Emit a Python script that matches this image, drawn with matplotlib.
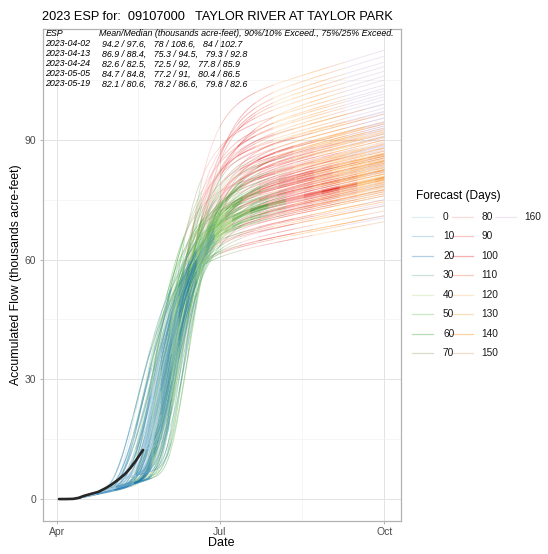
import math
import numpy as np
import matplotlib
matplotlib.use("Agg")
import matplotlib.pyplot as plt
import matplotlib.dates as mdates
from matplotlib.collections import LineCollection
from matplotlib.lines import Line2D

plt.rcParams["font.family"] = ["Liberation Sans", "DejaVu Sans"]

SEASON_START = np.datetime64("2023-04-01")
SEASON_END = np.datetime64("2023-10-01")

station = "09107000   TAYLOR RIVER AT TAYLOR PARK"
forecast_dates = ["2023-04-02", "2023-04-13", "2023-04-24", "2023-05-05", "2023-05-19"]

# observed accumulated flow since the season start (thousand acre-feet)
obs_dates = ["2023-04-02", "2023-04-06", "2023-04-10", "2023-04-13", "2023-04-16",
             "2023-04-20", "2023-04-24", "2023-04-28", "2023-05-01", "2023-05-05",
             "2023-05-09", "2023-05-12", "2023-05-15", "2023-05-19"]
obs_flow = [0.0, 0.0, 0.05, 0.3, 0.8, 1.3, 1.8, 2.7, 3.5, 4.8, 6.3, 7.8, 9.6, 12.3]

# ESP member volumes at Oct 1 for each forecast, ranked low to high (kaf)
esp_0402 = [70.5, 74.0, 77.0, 78.5, 80.5, 82.5, 83.5, 84.5, 86.0, 88.5, 91.0, 93.5, 95.5, 96.5, 97.2,
            98.0, 99.0, 100.0, 100.8, 101.5, 102.3, 102.9, 103.8, 105.0, 106.0, 107.2, 108.4, 109.5, 111.0, 112.5]
esp_0413 = [71.0, 73.5, 75.0, 76.0, 77.5, 78.8, 79.5, 80.5, 82.0, 84.0, 85.5, 86.5, 87.2, 87.8, 88.2,
            88.6, 89.2, 90.0, 90.8, 91.5, 92.2, 92.7, 93.0, 93.5, 94.0, 94.3, 94.6, 95.5, 97.0, 99.0]
esp_0424 = [69.5, 71.0, 72.2, 73.5, 75.0, 76.5, 77.5, 78.2, 79.0, 80.0, 80.8, 81.5, 82.0, 82.3, 82.4,
            82.6, 83.0, 83.5, 84.2, 84.8, 85.5, 85.9, 86.5, 87.5, 88.8, 90.5, 91.8, 93.0, 94.5, 96.5]
esp_0505 = [74.5, 76.0, 77.0, 77.6, 78.5, 79.3, 80.0, 80.6, 81.5, 82.5, 83.2, 83.8, 84.2, 84.5, 84.7,
            84.9, 85.2, 85.5, 85.9, 86.2, 86.4, 86.6, 87.2, 88.0, 89.0, 90.0, 90.8, 91.5, 92.5, 94.0]
esp_0519 = [76.5, 77.3, 78.0, 78.4, 78.9, 79.3, 79.6, 79.9, 80.0, 80.2, 80.3, 80.4, 80.5, 80.5, 80.6,
            80.6, 80.8, 81.0, 81.4, 81.9, 82.3, 82.6, 83.0, 83.8, 84.8, 86.0, 86.8, 88.0, 89.5, 92.0]
esp_volumes = [esp_0402, esp_0413, esp_0424, esp_0505, esp_0519]

# snowmelt timing of each ranked member: melt centre (days after Apr 1) and spread (days)
member_melt_day = [44, 55, 48, 58, 51, 61, 49, 56, 63, 53, 60, 57, 64, 54, 62,
                   59, 65, 60, 67, 55, 63, 66, 61, 68, 64, 71, 66, 69, 73, 68]
member_melt_spread = [12, 10, 13, 11, 14, 10, 12, 11, 13, 10, 12, 14, 11, 13, 10,
                      12, 11, 13, 10, 14, 11, 12, 10, 13, 11, 10, 12, 11, 10, 9]
baseflow_rate = 0.00122     # kaf per day, per kaf of seasonal volume
baseflow_start_day = 10

# forecast summary table
summary_mean = [94.2, 86.9, 82.6, 84.7, 82.1]
summary_median = [97.6, 88.4, 82.5, 84.8, 80.6]
summary_p90 = [78, 75.3, 72.5, 77.2, 78.2]
summary_p10 = [108.6, 94.5, 92, 91, 86.6]
summary_p75 = [84, 79.3, 77.8, 80.4, 79.8]
summary_p25 = [102.7, 92.8, 85.9, 86.5, 82.6]

forecast_day_levels = list(range(0, 170, 10))
forecast_day_colors = ["#A6CEE3", "#62A3CB", "#1F78B4", "#68AB9F", "#B2DF8A", "#72BF5B",
                       "#33A02C", "#979D62", "#FB9A99", "#EF5A5A", "#E31A1C", "#F06C45",
                       "#FDBF6F", "#FE9F37", "#FF7F00", "#E4986B", "#CAB2D6"]

LINE_ALPHA = 0.35
W, H = 548, 554


def day_of(d):
    return int((np.datetime64(d) - SEASON_START).astype(int))


END_DAY = day_of(SEASON_END)


def melt_fraction(days, centre, spread):
    # right-skewed (Gumbel) cumulative melt curve
    return np.exp(-np.exp(-(days - centre) / spread))


def member_trace(t0, start, volume, centre, spread):
    days = np.arange(t0, END_DAY + 1)
    rate = baseflow_rate * volume
    ramp = np.clip(days - max(t0, baseflow_start_day), 0, None)
    melt = melt_fraction(days, centre, spread)
    melt = melt - melt[0]
    amp = (volume - start - rate * ramp[-1]) / melt[-1]
    return days, start + rate * ramp + amp * melt


fig = plt.figure(figsize=(W / 100, H / 100), dpi=100)
left, right, top, bottom = 42.7, 400.5, 29, 521
ax = fig.add_axes([left / W, 1 - bottom / H, (right - left) / W, (bottom - top) / H])

obs_day = np.array([day_of(d) for d in obs_dates])

segments, seg_colors = [], []
for fdate, vols in zip(forecast_dates, esp_volumes):
    t0 = day_of(fdate)
    s0 = float(np.interp(t0, obs_day, obs_flow))
    for vol, c, s in zip(vols, member_melt_day, member_melt_spread):
        days, flow = member_trace(t0, s0, vol, c, s)
        x = mdates.date2num(SEASON_START + days.astype("timedelta64[D]"))
        pts = np.column_stack([x, flow])
        segs = np.stack([pts[:-1], pts[1:]], axis=1)
        lvl = np.minimum((days[:-1] - t0) // 10, len(forecast_day_levels) - 1)
        segments.extend(segs)
        seg_colors.extend(forecast_day_colors[i] for i in lvl)

lc = LineCollection(segments, colors=seg_colors, linewidths=0.65, alpha=LINE_ALPHA)
ax.add_collection(lc)

obs_x = mdates.date2num(np.array(obs_dates, dtype="datetime64[D]"))
ax.plot(obs_x, obs_flow, color="#262626", lw=1.9, solid_capstyle="round", zorder=5)

# axes, grid and frame
x0 = mdates.date2num(np.datetime64("2023-04-02"))
x1 = mdates.date2num(SEASON_END)
pad = 0.05 * (x1 - x0)
ax.set_xlim(x0 - pad, x1 + pad)
ax.set_ylim(-5.5, 117.8)
ax.xaxis.set_major_locator(mdates.MonthLocator(bymonth=[1, 4, 7, 10]))
ax.xaxis.set_major_formatter(mdates.DateFormatter("%b"))
ax.set_xticks([mdates.date2num(np.datetime64("2023-05-16T12")),
               mdates.date2num(np.datetime64("2023-08-16"))], minor=True)
ax.set_yticks([0, 30, 60, 90])
ax.set_yticks([15, 45, 75, 105], minor=True)
ax.grid(which="major", color="#E3E3E3", lw=0.7)
ax.grid(which="minor", color="#EFEFEF", lw=0.4)
ax.set_axisbelow(True)
for sp in ax.spines.values():
    sp.set_color("#B3B3B3")
    sp.set_linewidth(0.9)
ax.tick_params(which="major", length=2.5, width=0.7, color="#B3B3B3",
               labelcolor="#4D4D4D", labelsize=7.5, pad=2)
ax.tick_params(which="minor", length=0)

fig.text(221.6 / W, 1 - 543 / H, "Date", ha="center", va="center", fontsize=9.0, color="black")
fig.text(16 / W, 1 - 275 / H, "Accumulated Flow (thousands acre-feet)", rotation=90,
         ha="center", va="center", fontsize=8.8, color="black")
fig.text(42 / W, 1 - 20.5 / H, "2023 ESP for:  " + station, ha="left", va="baseline",
         fontsize=9.2, color="black")

# forecast summary table
row_base = [36.5 + 10 * i for i in range(6)]
fig.text(45.5 / W, 1 - row_base[0] / H, "ESP", style="italic", fontsize=6.4, va="baseline")
fig.text(99.3 / W, 1 - row_base[0] / H,
         "Mean/Median (thousands acre-feet), 90%/10% Exceed., 75%/25% Exceed.",
         style="italic", fontsize=6.4, va="baseline")
for i, fdate in enumerate(forecast_dates):
    line = (f"{summary_mean[i]:g} / {summary_median[i]:g},   "
            f"{summary_p90[i]:g} / {summary_p10[i]:g},   "
            f"{summary_p75[i]:g} / {summary_p25[i]:g}")
    fig.text(45.5 / W, 1 - row_base[i + 1] / H, fdate, style="italic", fontsize=6.4, va="baseline")
    fig.text(101.8 / W, 1 - row_base[i + 1] / H, line, style="italic", fontsize=6.4, va="baseline")

# legend
fig.text(416 / W, 1 - 196 / H, "Forecast (Days)", fontsize=8.6, va="center", ha="left")
key_x = [(412, 433), (452, 473), (495, 516)]
lab_x = [443, 481, 524]
for k, (lvl, col) in enumerate(zip(forecast_day_levels, forecast_day_colors)):
    c, r = divmod(k, 8)
    yy = 1 - (216.7 + 19.5 * r) / H
    fig.add_artist(Line2D([key_x[c][0] / W, key_x[c][1] / W], [yy, yy],
                          transform=fig.transFigure, color=col, lw=0.9, alpha=LINE_ALPHA))
    fig.text(lab_x[c] / W, yy, str(lvl), fontsize=7.3, va="center", ha="left", color="#1A1A1A")

fig.savefig("out.png", dpi=100, facecolor="white")
